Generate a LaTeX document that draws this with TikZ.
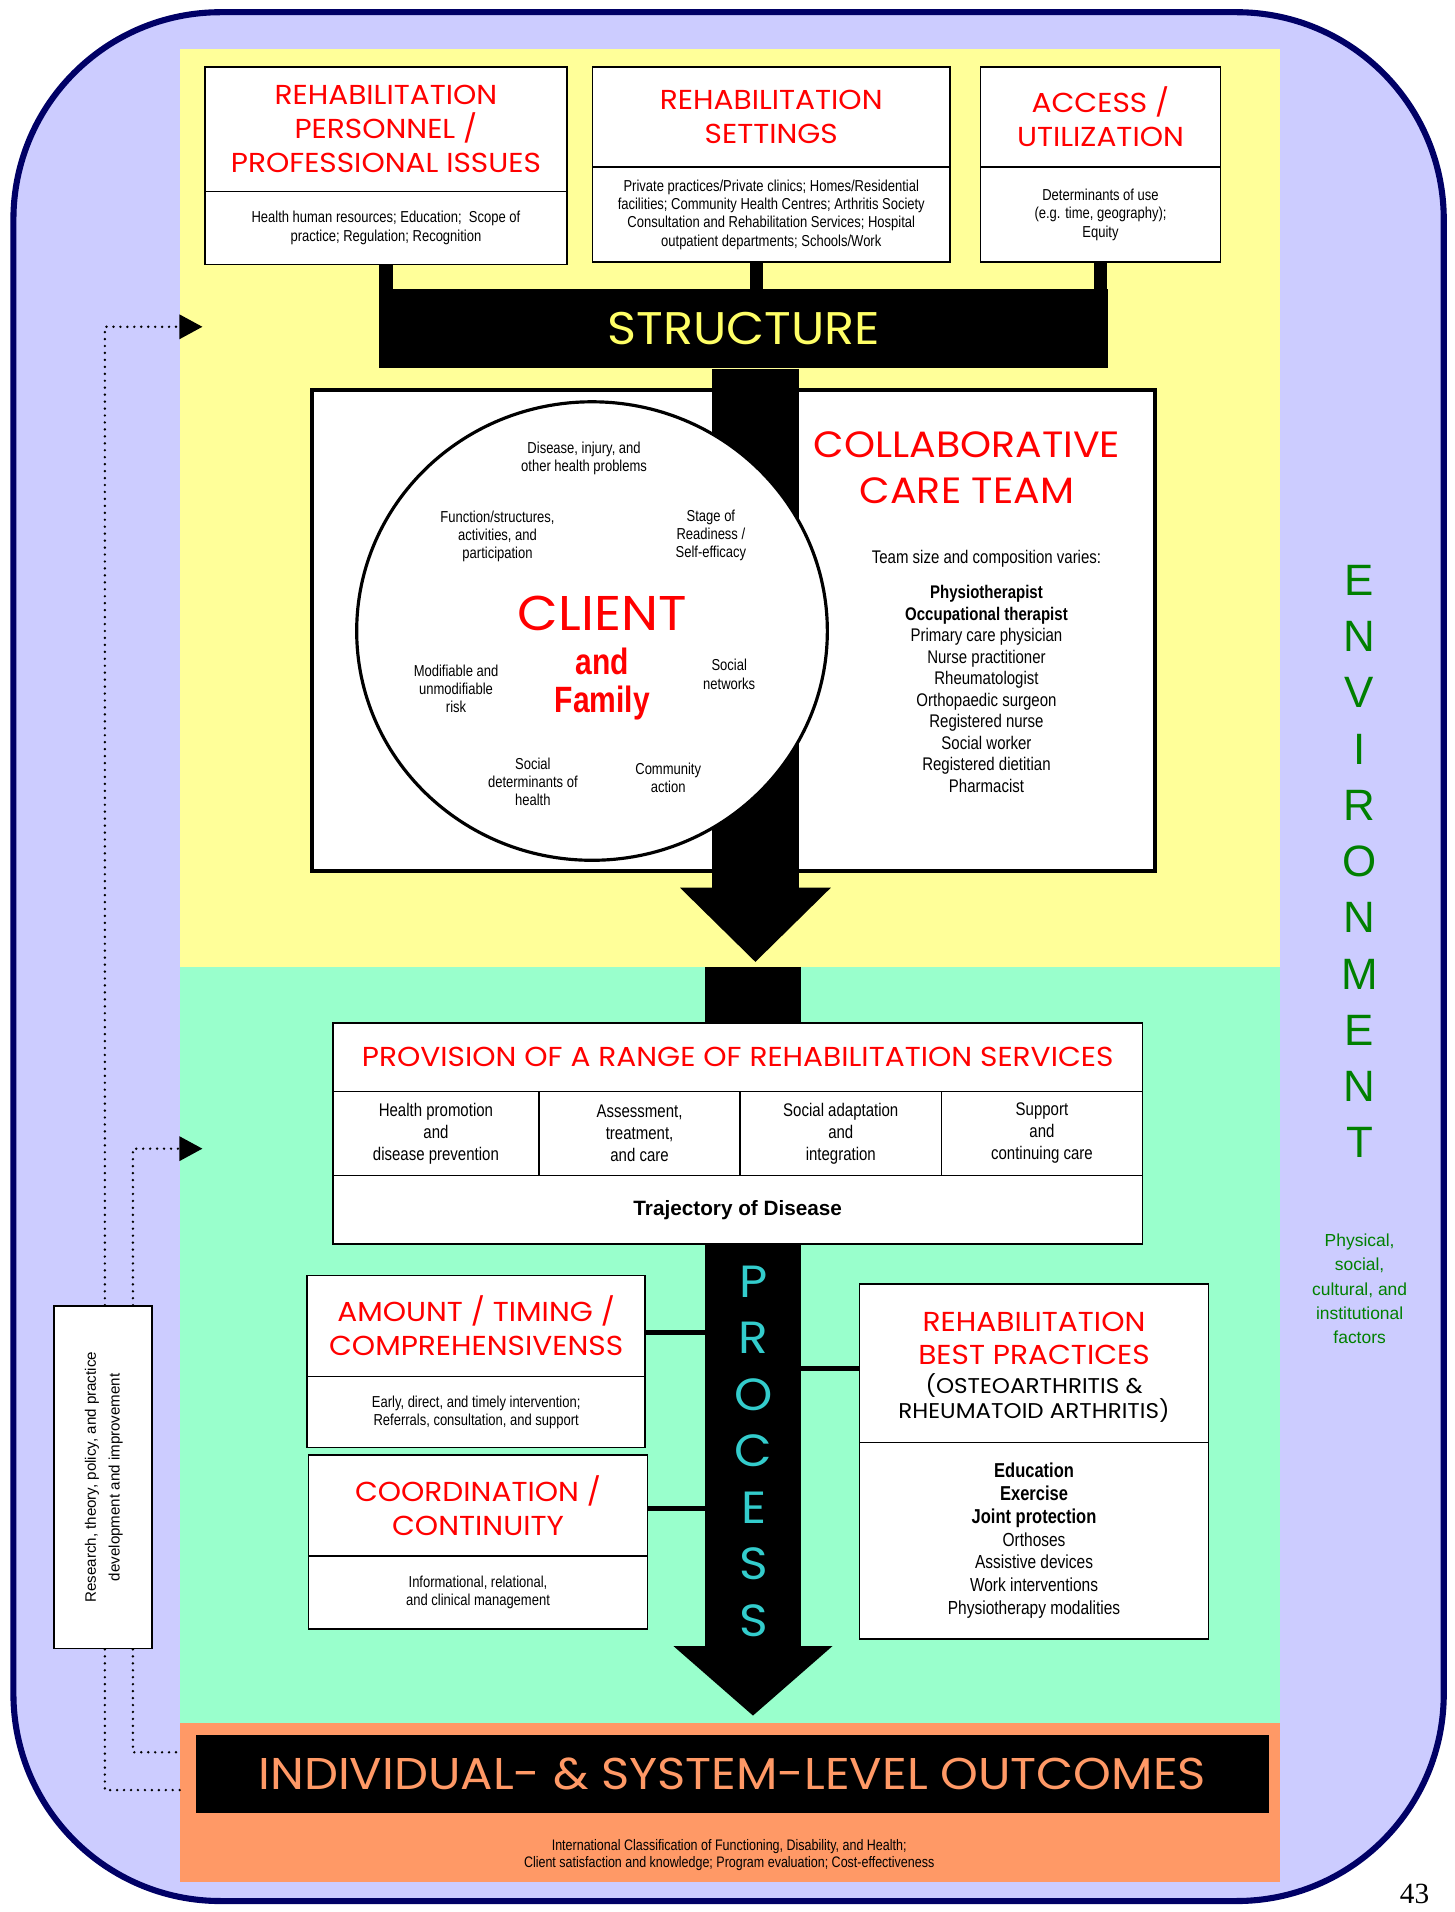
\documentclass[tikz,border=0pt]{standalone}
\usepackage{fontspec}
\setmainfont{Liberation Sans}
\newfontfamily\headfont[FakeStretch=1.08]{Poppins}
\newfontfamily\narrowfont[FakeStretch=0.82]{Liberation Sans}
\newfontfamily\pagefont{Liberation Serif}
\usetikzlibrary{positioning, arrows.meta, shapes.geometric}
\definecolor{envlilac}{HTML}{CCCCFF}
\definecolor{envnavy}{HTML}{000066}
\definecolor{structyellow}{HTML}{FFFF99}
\definecolor{procgreen}{HTML}{99FFCC}
\definecolor{outorange}{HTML}{FF9966}
\definecolor{headred}{HTML}{FF0000}
\definecolor{proccyan}{HTML}{33CCCC}
\definecolor{envgreen}{HTML}{008000}
\definecolor{structtext}{HTML}{FFFF66}
\tikzstyle{band} = [rectangle, draw=none, outer sep=0pt, inner sep=0pt]
\tikzstyle{titlebox} = [rectangle, draw=black, line width=1.3pt, fill=white, outer sep=0pt, align=center, text=headred, font=\headfont\fontsize{22.5}{28}\selectfont]
\tikzstyle{detailbox} = [rectangle, draw=black, line width=1.3pt, fill=white, outer sep=0pt, align=center, font=\narrowfont\fontsize{13}{15}\selectfont]
\tikzstyle{celltext} = [rectangle, draw=black, line width=1.3pt, fill=white, outer sep=0pt, align=center, font=\narrowfont\fontsize{15}{18}\selectfont]
\tikzstyle{smalltext} = [align=center, font=\narrowfont\fontsize{13}{15}\selectfont]
\tikzstyle{stem} = [line width=11pt]
\tikzstyle{link} = [line width=4pt]
\tikzstyle{flowarrow} = [line width=71pt, -{Triangle[length=61pt,width=120pt]}]
\tikzstyle{feedback} = [line width=2.2pt, line cap=round, dash pattern=on 0pt off 5.7pt]
\begin{document}
\begin{tikzpicture}[x=1pt, y=-1pt, node distance=0pt]
    \useasboundingbox (0,0) rectangle (1193,1568);
    \node (envframe) [rectangle, rounded corners=170pt, draw=envnavy, line width=5pt, fill=envlilac, minimum width=1173pt, minimum height=1549pt] at (597.5,784.5) {};
    \node (structband) [band, fill=structyellow, minimum width=902pt, minimum height=753pt] at (599,416.5) {};
    \node (procband) [band, fill=procgreen, minimum width=902pt, minimum height=620pt] at (599,1103) {};
    \node (outband) [band, fill=outorange, minimum width=902pt, minimum height=130pt] at (599,1478) {};

    \node (perstitle) [titlebox, minimum width=297pt, minimum height=102pt] at (316.5,106) {REHABILITATION\\PERSONNEL /\\PROFESSIONAL ISSUES};
    \node (persdet) [detailbox, minimum width=297pt, minimum height=60pt, below=of perstitle] {Health human resources; Education;\ \ Scope of\\practice; Regulation; Recognition};
    \node (settitle) [titlebox, minimum width=293pt, minimum height=82pt] at (632.5,96) {REHABILITATION\\SETTINGS};
    \node (setdet) [detailbox, minimum width=293pt, minimum height=78pt, below=of settitle] {Private practices/Private clinics; Homes/Residential\\facilities; Community Health Centres; Arthritis Society\\Consultation and Rehabilitation Services; Hospital\\outpatient departments; Schools/Work};
    \node (acctitle) [titlebox, minimum width=197pt, minimum height=82pt] at (902.5,96) {ACCESS /\\UTILIZATION};
    \node (accdet) [detailbox, minimum width=197pt, minimum height=78pt, below=of acctitle] {Determinants of use\\(e.g. time, geography);\\Equity};

    \node (structure) [rectangle, fill=black, minimum width=598pt, minimum height=65pt, text=structtext, font=\headfont\fontsize{37.5}{40}\selectfont] at (610,269.5) {STRUCTURE};
    \draw [stem] (persdet.south) -- (persdet.south |- structure.north);
    \draw [stem] ([xshift=-12pt]setdet.south) -- ([xshift=-12pt]setdet.south |- structure.north);
    \draw [stem] (accdet.south) -- (accdet.south |- structure.north);

    \node (teambox) [rectangle, draw=black, line width=3.5pt, fill=white, minimum width=691pt, minimum height=394pt] at (601.5,517) {};
    \coordinate (tipA) at (619.5,789);
    \draw [flowarrow] (structure.south -| tipA) -- (tipA);
    \node (client) [ellipse, draw=black, line width=2.6pt, fill=white, minimum width=386pt, minimum height=376pt] at (485.5,517.5) {};
    \node (disease) [smalltext] at (479,376) {Disease, injury, and\\other health problems};
    \node (function) [smalltext] at (408,440) {Function/structures,\\activities, and\\participation};
    \node (stage) [smalltext] at (583,439) {Stage of\\Readiness /\\Self-efficacy};
    \node (clientlbl) [inner sep=0pt, align=center, text=headred, font=\narrowfont\bfseries\fontsize{30}{31}\selectfont] at (494,539.5) {{\headfont\mdseries\fontsize{40}{31}\selectfont CLIENT}\\[5pt]and\\Family};
    \node (modrisk) [smalltext] at (374,565) {Modifiable and\\unmodifiable\\risk};
    \node (socnet) [smalltext] at (598,553) {Social\\networks};
    \node (socdet) [smalltext] at (437,641) {Social\\determinants of\\health};
    \node (community) [smalltext] at (548,638) {Community\\action};

    \node (teamtitle) [align=center, text=headred, font=\headfont\fontsize{30}{37}\selectfont] at (793,383.5) {COLLABORATIVE\\CARE TEAM};
    \node (teamsize) [font=\narrowfont\fontsize{15}{18}\selectfont] at (809,458) {Team size and composition varies:};
    \node (teamlist) [align=center, font=\narrowfont\fontsize{15}{17.6}\selectfont] at (809,565) {\textbf{Physiotherapist}\\\textbf{Occupational therapist}\\Primary care physician\\Nurse practitioner\\Rheumatologist\\Orthopaedic surgeon\\Registered nurse\\Social worker\\Registered dietitian\\Pharmacist};

    \coordinate (tipB) at (617.5,1407);
    \node (provtitle) [titlebox, minimum width=664pt, minimum height=56pt] at (605,867) {PROVISION OF A RANGE OF REHABILITATION SERVICES};
    \draw [line width=79pt] (procband.north -| tipB) -- (provtitle.north -| tipB);
    \node (promotion) [celltext, minimum width=169pt, minimum height=69pt, below right=0pt and 0pt of provtitle.south west] {Health promotion\\and\\disease prevention};
    \node (assessment) [celltext, minimum width=165pt, minimum height=69pt, right=of promotion] {Assessment,\\treatment,\\and care};
    \node (adaptation) [celltext, minimum width=165pt, minimum height=69pt, right=of assessment] {Social adaptation\\and\\integration};
    \node (support) [celltext, minimum width=165pt, minimum height=69pt, right=of adaptation] {Support\\and\\continuing care};
    \node (trajectory) [rectangle, draw=black, line width=1.3pt, fill=white, outer sep=0pt, minimum width=664pt, minimum height=56pt, below right=0pt and 0pt of promotion.south west, font=\bfseries\fontsize{17}{20}\selectfont] {Trajectory of Disease};

    \node (amttitle) [titlebox, minimum width=277pt, minimum height=83pt] at (390.5,1087.5) {AMOUNT / TIMING /\\COMPREHENSIVENSS};
    \node (amtdet) [detailbox, minimum width=277pt, minimum height=58pt, below=of amttitle] {Early, direct, and timely intervention;\\Referrals, consultation, and support};
    \node (coordtitle) [titlebox, minimum width=278pt, minimum height=83pt] at (392,1234.5) {COORDINATION /\\CONTINUITY};
    \node (coorddet) [detailbox, minimum width=278pt, minimum height=60pt, below=of coordtitle] {Informational, relational,\\and clinical management};
    \node (besttitle) [titlebox, minimum width=286pt, minimum height=130pt] at (848,1118) {};
    \node (bestname) [align=center, text=headred, font=\headfont\fontsize{22.5}{27}\selectfont] at (848,1097.5) {REHABILITATION\\BEST PRACTICES};
    \node (bestscope) [align=center, font=\headfont\fontsize{17.5}{21}\selectfont] at (848,1146.5) {(OSTEOARTHRITIS \&\\RHEUMATOID ARTHRITIS)};
    \node (bestdet) [detailbox, minimum width=286pt, minimum height=161pt, below=of besttitle, font=\narrowfont\fontsize{15.5}{18.7}\selectfont] {{\bfseries\fontsize{16.5}{18.7}\selectfont Education}\\{\bfseries\fontsize{16.5}{18.7}\selectfont Exercise}\\{\bfseries\fontsize{16.5}{18.7}\selectfont Joint protection}\\Orthoses\\Assistive devices\\Work interventions\\Physiotherapy modalities};
    \draw [link] ([yshift=-5.5pt]amttitle.east) -- ([yshift=-5.5pt]amttitle.east -| tipB);
    \draw [link] ([yshift=-2.5pt]coordtitle.east) -- ([yshift=-2.5pt]coordtitle.east -| tipB);
    \draw [link] ([yshift=-4pt]besttitle.west) -- ([yshift=-4pt]besttitle.west -| tipB);
    \draw [flowarrow, line width=79pt, -{Triangle[length=57pt,width=127pt]}] (trajectory.south -| tipB) -- (tipB);
    \node (process) [align=center, text=proccyan, font=\headfont\fontsize{37}{46.3}\selectfont] at (618,1190) {P\\R\\O\\C\\E\\S\\S};

    \node (outcomes) [rectangle, fill=black, minimum width=880pt, minimum height=64pt, text=outorange, font=\headfont\fontsize{36.5}{40}\selectfont] at (600.5,1455) {INDIVIDUAL- \& SYSTEM-LEVEL OUTCOMES};
    \node (measures) [smalltext, font=\narrowfont\fontsize{12.5}{14}\selectfont] at (598,1521) {International Classification of Functioning, Disability, and Health;\\Client satisfaction and knowledge; Program evaluation; Cost-effectiveness};

    \node (environment) [align=center, text=envgreen, font=\fontsize{36}{46.1}\selectfont] at (1115,706.5) {E\\N\\V\\I\\R\\O\\N\\M\\E\\N\\T};
    \node (envfactors) [align=center, text=envgreen, font=\fontsize{14.3}{20}\selectfont] at (1115,1057) {Physical,\\social,\\cultural, and\\institutional\\factors};

    \node (research) [rectangle, draw=black, line width=1.3pt, fill=white, minimum width=80pt, minimum height=281pt] at (84.5,1211.5) {\rotatebox{90}{\fontsize{12.4}{19.5}\selectfont\begin{tabular}{@{}c@{}}Research, theory, policy, and practice\\development and improvement\end{tabular}}};
    \coordinate (structin) at (166,268);
    \coordinate (procin) at (166,942);
    \draw [feedback, -{Triangle[length=19pt,width=20pt]}] ([xshift=1.5pt]research.north) |- (structin);
    \draw [feedback, -{Triangle[length=19pt,width=20pt]}] ([xshift=24.5pt]research.north) |- (procin);
    \draw [feedback] ([xshift=1.5pt]research.south) |- ([yshift=10pt]outband.west);
    \draw [feedback] ([xshift=24.5pt]research.south) |- ([yshift=41pt]outband.west);

    \node (pagenum) [font=\pagefont\fontsize{24}{26}\selectfont] at (1160,1553) {43};
\end{tikzpicture}
\end{document}
